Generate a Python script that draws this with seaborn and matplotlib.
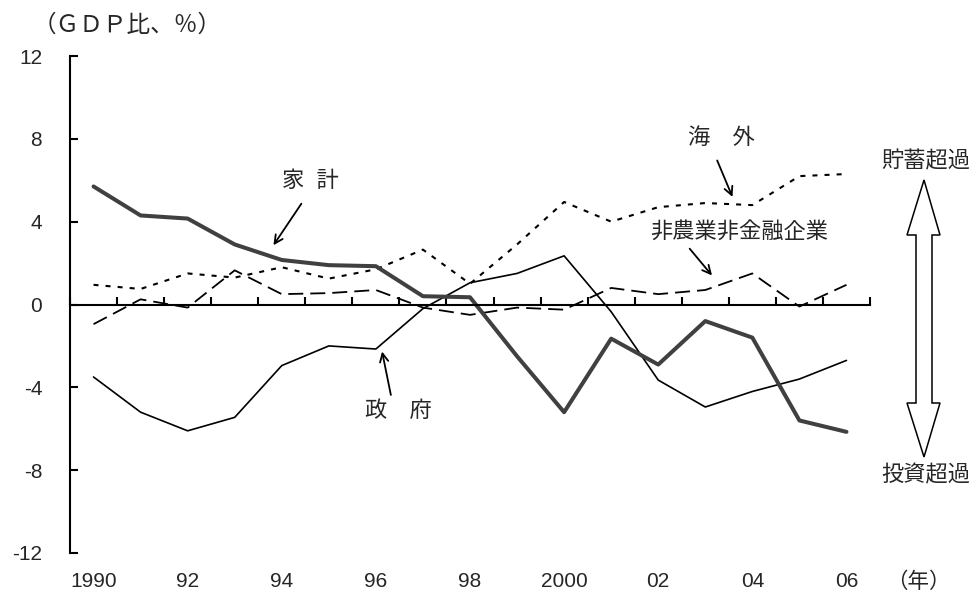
import numpy as np
import matplotlib
matplotlib.use("Agg")
from matplotlib import pyplot as plt
from matplotlib.patches import Polygon
import seaborn as sns

sns.set_style("white")
plt.rcParams['font.family'] = ['Liberation Sans', 'Noto Sans CJK JP']
plt.rcParams['axes.unicode_minus'] = False

# data (GDP比、%) ~~~~~~~~~~~~~~~~~~~~~~~~~~~~~~~~~~~~~~~~~~~~~~~~~~~~~~~~
years = list(range(1990, 2007))
year_labels = ['1990', '92', '94', '96', '98', '2000', '02', '04', '06']
household = [5.7, 4.3, 4.15, 2.9, 2.15, 1.9, 1.85, 0.4, 0.35, -2.5, -5.2,
             -1.65, -2.9, -0.8, -1.6, -5.6, -6.15]
government = [-3.5, -5.2, -6.1, -5.45, -2.95, -2.0, -2.15, -0.2, 1.05, 1.5, 2.35,
              -0.35, -3.65, -4.95, -4.2, -3.6, -2.7]
overseas = [0.95, 0.75, 1.5, 1.3, 1.8, 1.25, 1.7, 2.65, 1.0, 2.9, 4.95,
            4.0, 4.7, 4.9, 4.8, 6.2, 6.3]
corporate = [-0.95, 0.25, -0.15, 1.65, 0.5, 0.55, 0.7, -0.15, -0.5, -0.15, -0.25,
             0.8, 0.5, 0.7, 1.5, -0.1, 0.95]

W, H = 977, 594
fig = plt.figure(figsize=(W / 100, H / 100), dpi=100)
ax = fig.add_axes([70 / W, 1 - 553 / H, 800 / W, (553 - 56) / H])

sns.lineplot(x=years, y=government, ax=ax, color='black', linewidth=1.2)
sns.lineplot(x=years, y=corporate, ax=ax, color='black', linewidth=1.3,
             linestyle=(0, (8.3, 3.9)))
sns.lineplot(x=years, y=overseas, ax=ax, color='black', linewidth=1.5,
             linestyle=(0, (2.4, 3.4)))
sns.lineplot(x=years, y=household, ax=ax, color='#404040', linewidth=2.9)

# axes ~~~~~~~~~~~~~~~~~~~~~~~~~~~~~~~~~~~~~~~~~~~~~~~~~~~~~~~~~~~~~~~~~~
ax.set_xlim(1989.5, 2006.5)
ax.set_ylim(-12, 12)
ax.set_yticks(np.arange(-12, 13, 4))
ax.set_xticks(np.arange(1989.5, 2007, 1))
ax.spines['bottom'].set_position(('data', 0))
for s in ['top', 'right']:
    ax.spines[s].set_visible(False)
for s in ['left', 'bottom']:
    ax.spines[s].set_linewidth(1.5)
    ax.spines[s].set_color('black')
ax.tick_params(axis='x', bottom=True, direction='in', length=6, width=1.5,
               color='black', labelbottom=False)
ax.tick_params(axis='y', left=True, direction='in', length=6, width=1.5,
               color='black', labelsize=15, pad=20)

sec = ax.secondary_xaxis('bottom')
sec.set_xticks(years[::2])
sec.set_xticklabels(year_labels)
sec.tick_params(length=0, labelsize=15, pad=14)
sec.spines['bottom'].set_visible(False)

# labels and arrows ~~~~~~~~~~~~~~~~~~~~~~~~~~~~~~~~~~~~~~~~~~~~~~~~~~~~~
arrow = dict(arrowstyle='->,head_length=0.6,head_width=0.3', color='black', lw=1.3)
ax.annotate('', xy=(1993.79, 2.75), xytext=(1994.45, 4.98), arrowprops=arrow)
ax.text(1994.6, 5.94, '家  計', fontsize=16, ha='center', va='center')
ax.annotate('', xy=(1996.12, -2.14), xytext=(1996.33, -4.5), arrowprops=arrow)
ax.text(1996.47, -5.17, '政　府', fontsize=16, ha='center', va='center')
ax.annotate('', xy=(2003.60, 5.07), xytext=(2003.23, 7.08), arrowprops=arrow)
ax.text(2003.34, 8.02, '海　外', fontsize=16, ha='center', va='center')
ax.annotate('', xy=(2003.18, 1.3), xytext=(2002.63, 2.8), arrowprops=arrow)
ax.text(2003.71, 3.5, '非農業非金融企業', fontsize=16, ha='center', va='center')

def fx(px):
    return px / W

def fy(py):
    return 1 - py / H

fig.text(fx(33), fy(25), '（ＧＤＰ比、％）', fontsize=17, ha='left', va='center')
fig.text(fx(918), fy(582), '（年）', fontsize=15.5, ha='center', va='center')
fig.text(fx(926), fy(162), '貯蓄超過', fontsize=16, ha='center', va='center')
fig.text(fx(926), fy(476), '投資超過', fontsize=16, ha='center', va='center')

pts = [(924, 180), (940, 235), (932, 235), (932, 403), (940, 403), (924, 457),
       (907, 403), (916, 403), (916, 235), (907, 235)]
fig.patches.append(Polygon([(fx(a), fy(b)) for a, b in pts], closed=True,
                           transform=fig.transFigure, facecolor='white',
                           edgecolor='black', lw=1.1))

fig.savefig('out.png', dpi=100)
